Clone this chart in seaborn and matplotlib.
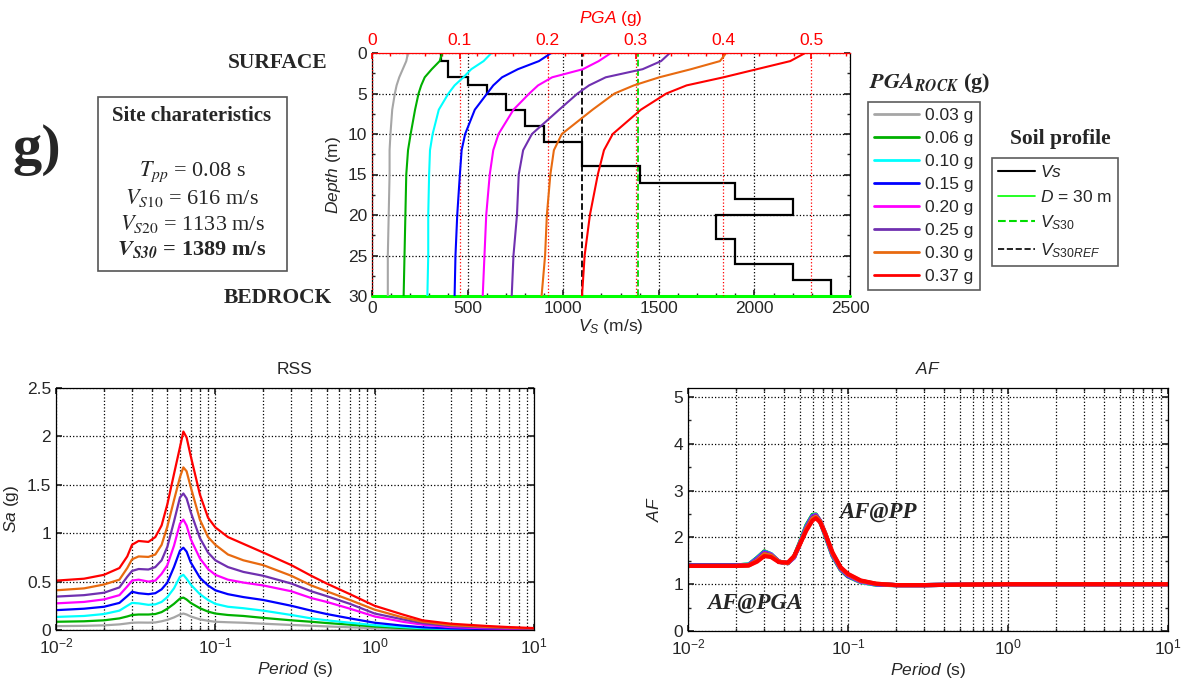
import numpy as np
import pandas as pd
import matplotlib
matplotlib.use('Agg')
import matplotlib.pyplot as plt
import seaborn as sns
from matplotlib.lines import Line2D
from matplotlib.patches import Rectangle
from matplotlib.ticker import MultipleLocator, LogLocator, NullFormatter, FormatStrFormatter

# ---------------- data ----------------
pga_labels = ['0.03 g', '0.06 g', '0.10 g', '0.15 g', '0.20 g', '0.25 g', '0.30 g', '0.37 g']
pga_colors = ['#a6a6a6', '#00b000', '#00ffff', '#0000ff', '#ff00ff', '#7030b0', '#e86a10', '#ff0000']

# soil profile (Vs vs depth)
layer_edges = [0, 1, 3, 4, 5, 7, 9, 11, 14, 16, 18, 20, 23, 26, 28, 30]
layer_vs = [360, 400, 500, 600, 700, 800, 900, 1100, 1400, 1900, 2200, 1800, 1900, 2200, 2400]
VS30 = 1389
VS30_REF = 1100
D_BEDROCK = 30

# PGA profiles with depth
profile_depth = [0, 1, 2, 3, 4, 5, 7, 10, 12, 15, 20, 25, 30]
pga_prof_003 = [0.041, 0.039, 0.035, 0.031, 0.028, 0.026, 0.023, 0.021, 0.020, 0.020, 0.019, 0.018, 0.018]
pga_prof_006 = [0.080, 0.077, 0.068, 0.060, 0.056, 0.053, 0.049, 0.044, 0.041, 0.039, 0.038, 0.037, 0.036]
pga_prof_010 = [0.136, 0.127, 0.113, 0.104, 0.094, 0.087, 0.076, 0.069, 0.066, 0.065, 0.064, 0.064, 0.063]
pga_prof_015 = [0.204, 0.190, 0.166, 0.148, 0.138, 0.131, 0.117, 0.106, 0.102, 0.100, 0.097, 0.095, 0.094]
pga_prof_020 = [0.272, 0.258, 0.240, 0.205, 0.189, 0.179, 0.161, 0.144, 0.138, 0.134, 0.130, 0.128, 0.126]
pga_prof_025 = [0.339, 0.329, 0.308, 0.266, 0.247, 0.234, 0.213, 0.182, 0.172, 0.167, 0.165, 0.161, 0.159]
pga_prof_030 = [0.403, 0.396, 0.363, 0.327, 0.298, 0.276, 0.251, 0.216, 0.207, 0.203, 0.199, 0.197, 0.193]
pga_prof_037 = [0.493, 0.476, 0.438, 0.400, 0.358, 0.335, 0.306, 0.274, 0.264, 0.257, 0.248, 0.242, 0.239]

# response spectra at surface (RSS)
period = [0.01, 0.015, 0.02, 0.025, 0.028, 0.03, 0.033, 0.038, 0.042, 0.046, 0.05, 0.055, 0.06, 0.063,
          0.066, 0.07, 0.08, 0.09, 0.1, 0.12, 0.15, 0.2, 0.3, 0.4, 0.5, 0.7, 1.0, 1.5, 2.0, 3.0, 5.0, 7.0, 10.0]
rss_003 = [0.04, 0.043, 0.048, 0.058, 0.068, 0.075, 0.077, 0.076, 0.078, 0.09, 0.105, 0.13, 0.16, 0.17, 0.16, 0.14, 0.11,
           0.095, 0.085, 0.08, 0.075, 0.065, 0.052, 0.044, 0.037, 0.028, 0.018, 0.01, 0.006, 0.004, 0.002, 0.0015, 0.001]
rss_006 = [0.085, 0.09, 0.10, 0.12, 0.14, 0.155, 0.16, 0.16, 0.165, 0.185, 0.22, 0.27, 0.325, 0.335, 0.315, 0.28, 0.225,
           0.19, 0.17, 0.155, 0.145, 0.125, 0.10, 0.085, 0.072, 0.055, 0.036, 0.02, 0.012, 0.007, 0.004, 0.003, 0.002]
rss_010 = [0.135, 0.145, 0.165, 0.20, 0.25, 0.28, 0.275, 0.26, 0.265, 0.29, 0.34, 0.43, 0.55, 0.57, 0.53, 0.47, 0.37,
           0.31, 0.27, 0.24, 0.225, 0.20, 0.155, 0.12, 0.10, 0.075, 0.05, 0.03, 0.018, 0.01, 0.006, 0.004, 0.003]
rss_015 = [0.205, 0.22, 0.24, 0.28, 0.35, 0.395, 0.38, 0.37, 0.38, 0.42, 0.49, 0.65, 0.82, 0.85, 0.81, 0.70, 0.54,
           0.46, 0.41, 0.37, 0.34, 0.31, 0.25, 0.20, 0.165, 0.12, 0.075, 0.045, 0.028, 0.016, 0.01, 0.007, 0.005]
rss_020 = [0.275, 0.29, 0.316, 0.36, 0.45, 0.51, 0.52, 0.50, 0.51, 0.58, 0.67, 0.87, 1.10, 1.14, 1.08, 0.94, 0.74,
           0.63, 0.57, 0.52, 0.49, 0.46, 0.40, 0.33, 0.29, 0.22, 0.14, 0.085, 0.055, 0.03, 0.018, 0.013, 0.009]
rss_025 = [0.345, 0.36, 0.385, 0.44, 0.55, 0.61, 0.63, 0.625, 0.65, 0.72, 0.86, 1.12, 1.37, 1.41, 1.36, 1.22, 0.95,
           0.80, 0.72, 0.65, 0.60, 0.56, 0.48, 0.40, 0.35, 0.27, 0.17, 0.11, 0.07, 0.04, 0.025, 0.018, 0.012]
rss_030 = [0.41, 0.43, 0.47, 0.52, 0.64, 0.73, 0.76, 0.755, 0.78, 0.88, 1.07, 1.34, 1.58, 1.68, 1.64, 1.48, 1.14,
           0.96, 0.88, 0.78, 0.72, 0.67, 0.56, 0.46, 0.40, 0.31, 0.21, 0.13, 0.085, 0.05, 0.032, 0.024, 0.016]
rss_037 = [0.51, 0.53, 0.57, 0.64, 0.76, 0.88, 0.92, 0.91, 0.96, 1.08, 1.30, 1.61, 1.89, 2.05, 1.99, 1.80, 1.40,
           1.16, 1.06, 0.96, 0.89, 0.80, 0.67, 0.56, 0.48, 0.37, 0.25, 0.16, 0.10, 0.065, 0.042, 0.03, 0.02]

# amplification factor (AF)
af_period = [0.01, 0.02, 0.024, 0.027, 0.03, 0.033, 0.037, 0.042, 0.046, 0.05, 0.055, 0.06, 0.063,
             0.067, 0.072, 0.08, 0.09, 0.1, 0.12, 0.15, 0.2, 0.3, 0.5, 1.0, 10.0]
af_003 = [1.40, 1.40, 1.42, 1.56, 1.70, 1.64, 1.48, 1.45, 1.58, 1.88, 2.25, 2.47, 2.48, 2.33, 2.04, 1.60, 1.30, 1.16, 1.04, 0.99, 0.98, 0.98, 0.99, 1.0, 1.0]
af_006 = [1.40, 1.40, 1.42, 1.56, 1.70, 1.64, 1.48, 1.45, 1.58, 1.89, 2.26, 2.48, 2.49, 2.34, 2.05, 1.61, 1.31, 1.17, 1.05, 0.99, 0.98, 0.98, 0.99, 1.0, 1.0]
af_010 = [1.40, 1.40, 1.42, 1.55, 1.69, 1.64, 1.48, 1.45, 1.57, 1.87, 2.24, 2.46, 2.48, 2.34, 2.06, 1.62, 1.32, 1.18, 1.05, 0.99, 0.98, 0.98, 0.99, 1.0, 1.0]
af_015 = [1.40, 1.40, 1.41, 1.54, 1.68, 1.63, 1.48, 1.45, 1.57, 1.86, 2.22, 2.45, 2.47, 2.34, 2.07, 1.63, 1.33, 1.18, 1.06, 1.00, 0.98, 0.98, 0.99, 1.0, 1.0]
af_020 = [1.39, 1.39, 1.41, 1.53, 1.67, 1.63, 1.48, 1.45, 1.57, 1.86, 2.21, 2.44, 2.47, 2.35, 2.08, 1.64, 1.33, 1.19, 1.06, 1.00, 0.98, 0.98, 0.99, 1.0, 1.0]
af_025 = [1.39, 1.39, 1.41, 1.52, 1.66, 1.62, 1.48, 1.45, 1.58, 1.86, 2.20, 2.43, 2.46, 2.35, 2.09, 1.65, 1.34, 1.20, 1.07, 1.00, 0.98, 0.98, 0.99, 1.0, 1.0]
af_030 = [1.39, 1.39, 1.40, 1.50, 1.64, 1.61, 1.48, 1.45, 1.59, 1.85, 2.18, 2.40, 2.44, 2.34, 2.09, 1.66, 1.35, 1.21, 1.07, 1.01, 0.98, 0.98, 0.99, 1.0, 1.0]
af_037 = [1.39, 1.39, 1.40, 1.48, 1.60, 1.58, 1.47, 1.46, 1.60, 1.85, 2.15, 2.36, 2.41, 2.32, 2.08, 1.68, 1.36, 1.22, 1.08, 1.01, 0.98, 0.98, 0.99, 1.0, 1.0]

profiles = [pga_prof_003, pga_prof_006, pga_prof_010, pga_prof_015, pga_prof_020, pga_prof_025, pga_prof_030, pga_prof_037]
rss_curves = [rss_003, rss_006, rss_010, rss_015, rss_020, rss_025, rss_030, rss_037]
af_curves = [af_003, af_006, af_010, af_015, af_020, af_025, af_030, af_037]

prof_df = pd.concat([pd.DataFrame({'Depth': profile_depth, 'PGA': v, 'Rock': lab})
                     for v, lab in zip(profiles, pga_labels)], ignore_index=True)
rss_df = pd.concat([pd.DataFrame({'Period': period, 'Sa': v, 'Rock': lab})
                    for v, lab in zip(rss_curves, pga_labels)], ignore_index=True)
af_df = pd.concat([pd.DataFrame({'Period': af_period, 'AF': v, 'Rock': lab})
                   for v, lab in zip(af_curves, pga_labels)], ignore_index=True)

# ---------------- style ----------------
sns.set_theme(style='ticks', rc={'axes.edgecolor': 'black', 'axes.linewidth': 0.9,
                                 'xtick.direction': 'in', 'ytick.direction': 'in',
                                 'xtick.major.size': 4, 'ytick.major.size': 4,
                                 'xtick.minor.size': 2.5, 'ytick.minor.size': 2.5})
plt.rcParams['font.family'] = ['Liberation Sans', 'DejaVu Sans']
plt.rcParams['mathtext.fontset'] = 'custom'
plt.rcParams['mathtext.rm'] = 'Liberation Sans'
plt.rcParams['mathtext.it'] = 'Liberation Sans:italic'
plt.rcParams['mathtext.bf'] = 'Liberation Sans:bold'

W, H = 1189, 684
fig = plt.figure(figsize=(W / 100, H / 100), dpi=100)


def box(x0, y0, x1, y1):
    # pixel box (top-left origin) -> figure fraction rect
    return [x0 / W, 1 - y1 / H, (x1 - x0) / W, (y1 - y0) / H]


def fx(px):
    return px / W


def fy(py):
    return 1 - py / H


grid_kw = dict(ls=':', color='black', lw=0.9)
SERIF = 'Liberation Serif'
num_fmt = FormatStrFormatter('%g')

# ---------------- top: profiles ----------------
ax = fig.add_axes(box(372, 53, 850, 296))
ax.stairs(layer_vs, layer_edges, orientation='horizontal', baseline=None, color='black', lw=1.6, zorder=4)
ax.axvline(VS30_REF, color='black', ls='--', lw=1.3, zorder=3)
ax.axvline(VS30, color='#00dd00', ls='--', lw=1.3, zorder=3)
ax.axhline(D_BEDROCK, color='#00ff00', lw=2.2, zorder=5, clip_on=False)
ax.set_xlim(0, 2500)
ax.set_ylim(30, 0)
ax.xaxis.set_major_locator(MultipleLocator(500))
ax.xaxis.set_minor_locator(MultipleLocator(100))
ax.yaxis.set_major_locator(MultipleLocator(5))
ax.yaxis.set_minor_locator(MultipleLocator(2.5))
ax.xaxis.grid(True, **grid_kw)
ax.yaxis.grid(True, **grid_kw)
ax.tick_params(which='both', top=False, right=True, labelsize=12.5)
ax.spines['top'].set_visible(False)
ax.set_xlabel(r'$V_S$ (m/s)', fontsize=12.5, labelpad=1)
ax.set_ylabel(r'$Depth$ (m)', fontsize=12.5, labelpad=3)

ax_pga = ax.twiny()
sns.lineplot(data=prof_df, x='PGA', y='Depth', hue='Rock', hue_order=pga_labels, palette=pga_colors,
             sort=False, estimator=None, legend=False, lw=1.5, ax=ax_pga)
ax_pga.set_xlim(0, 0.544)
ax_pga.set_ylim(30, 0)
ax_pga.xaxis.set_major_locator(MultipleLocator(0.1))
ax_pga.xaxis.set_minor_locator(MultipleLocator(0.02))
ax_pga.xaxis.set_major_formatter(num_fmt)
ax_pga.xaxis.grid(True, ls=':', color='red', lw=0.9)
ax_pga.tick_params(axis='x', which='both', colors='red', labelsize=12.5, direction='in')
ax_pga.spines['top'].set_color('red')
for s in ['left', 'right', 'bottom']:
    ax_pga.spines[s].set_visible(False)
ax_pga.set_xlabel(r'$PGA$ (g)', color='red', fontsize=12.5, labelpad=7)
ax_pga.set_ylabel('')

# ---------------- bottom left: RSS ----------------
ax_rss = fig.add_axes(box(56, 388, 534, 630))
sns.lineplot(data=rss_df, x='Period', y='Sa', hue='Rock', hue_order=pga_labels, palette=pga_colors,
             estimator=None, legend=False, lw=1.6, ax=ax_rss)
ax_rss.set_xscale('log')
ax_rss.set_xlim(0.01, 10)
ax_rss.set_ylim(0, 2.5)
ax_rss.yaxis.set_major_locator(MultipleLocator(0.5))
ax_rss.yaxis.set_major_formatter(num_fmt)
ax_rss.set_title('RSS', fontsize=12.5, pad=10)
ax_rss.set_xlabel(r'$Period$ (s)', fontsize=12.5, labelpad=2)
ax_rss.set_ylabel(r'$Sa$ (g)', fontsize=12.5, labelpad=4)

# ---------------- bottom right: AF ----------------
ax_af = fig.add_axes(box(688, 388, 1168, 631))
sns.lineplot(data=af_df, x='Period', y='AF', hue='Rock', hue_order=pga_labels, palette=pga_colors,
             estimator=None, legend=False, lw=3.0, ax=ax_af)
ax_af.set_xscale('log')
ax_af.set_xlim(0.01, 10)
ax_af.set_ylim(0, 5.19)
ax_af.yaxis.set_major_locator(MultipleLocator(1))
ax_af.yaxis.set_minor_locator(MultipleLocator(0.5))
ax_af.yaxis.set_major_formatter(num_fmt)
ax_af.set_title(r'$AF$', fontsize=12.5, pad=10)
ax_af.set_xlabel(r'$Period$ (s)', fontsize=12.5, labelpad=2)
ax_af.set_ylabel(r'$AF$', fontsize=12.5, labelpad=8)
ax_af.text(0.395, 0.49, 'AF@PP', transform=ax_af.transAxes, ha='center', va='center',
           fontsize=16.5, fontweight='bold', fontstyle='italic', family=SERIF)
ax_af.text(0.14, 0.115, 'AF@PGA', transform=ax_af.transAxes, ha='center', va='center',
           fontsize=16.5, fontweight='bold', fontstyle='italic', family=SERIF)

for a in (ax_rss, ax_af):
    a.xaxis.set_major_locator(LogLocator(base=10, numticks=10))
    a.xaxis.set_minor_locator(LogLocator(base=10, subs=np.arange(2, 10), numticks=20))
    a.xaxis.set_minor_formatter(NullFormatter())
    a.grid(True, which='major', **grid_kw)
    a.xaxis.grid(True, which='minor', **grid_kw)
    a.tick_params(which='both', top=True, right=True, labelsize=12.5)
    a.tick_params(axis='x', pad=5)

# ---------------- legends ----------------
pga_handles = [Line2D([], [], color=c, lw=2) for c in pga_colors]
leg1 = fig.legend(pga_handles, pga_labels, loc='upper left', bbox_to_anchor=(fx(868), fy(102)),
                  bbox_transform=fig.transFigure, frameon=True, fancybox=False, fontsize=12.5,
                  handlelength=2.6, handletextpad=0.35, labelspacing=0.45, borderpad=0.35,
                  borderaxespad=0)
leg1.get_frame().set_edgecolor('#333333')
leg1.get_frame().set_linewidth(1.2)

soil_handles = [Line2D([], [], color='black', lw=1.5),
                Line2D([], [], color='#00ff00', lw=1.2),
                Line2D([], [], color='#00dd00', lw=1.5, ls='--'),
                Line2D([], [], color='black', lw=1.2, ls='--')]
soil_labels = [r'$Vs$', r'$D$ = 30 m', r'$V_{S30}$', r'$V_{S30REF}$']
leg2 = fig.legend(soil_handles, soil_labels, loc='upper left', bbox_to_anchor=(fx(992), fy(158)),
                  bbox_transform=fig.transFigure, frameon=True, fancybox=False, fontsize=12.5,
                  handlelength=2.1, handletextpad=0.3, labelspacing=0.5, borderpad=0.35,
                  borderaxespad=0)
leg2.get_frame().set_edgecolor('#333333')
leg2.get_frame().set_linewidth(1.2)

fig.text(fx(930), fy(83), r'$\mathbfit{PGA}_{\mathbfit{ROCK}}$ (g)', ha='center', va='center',
         fontsize=16, fontweight='bold', family=SERIF, math_fontfamily='stix')
fig.text(fx(1060), fy(139), 'Soil profile', ha='center', va='center',
         fontsize=15.5, fontweight='bold', family=SERIF)

# ---------------- left annotations ----------------
fig.text(fx(37), fy(150), 'g)', ha='center', va='center', fontsize=42, fontweight='bold', family=SERIF)
fig.text(fx(278), fy(63), 'SURFACE', ha='center', va='center', fontsize=15.5, fontweight='bold', family=SERIF)
fig.text(fx(278), fy(298), 'BEDROCK', ha='center', va='center', fontsize=15.5, fontweight='bold', family=SERIF)

fig.add_artist(Rectangle((fx(98), fy(271)), fx(287) - fx(98), fy(97) - fy(271), transform=fig.transFigure,
                         fill=False, edgecolor='#555555', lw=1.2))
fig.text(fx(192), fy(116), 'Site charateristics', ha='center', va='center',
         fontsize=15, fontweight='bold', family=SERIF)
site_lines = [r'$T_{pp}$ = 0.08 s', r'$V_{S10}$ = 616 m/s', r'$V_{S20}$ = 1133 m/s']
for i, txt in enumerate(site_lines):
    fig.text(fx(192), fy(172 + 26 * i), txt, ha='center', va='center', fontsize=16,
             family=SERIF, math_fontfamily='stix')
fig.text(fx(192), fy(250), r'$\mathbfit{V}_{\mathbfit{S30}}$ = 1389 m/s', ha='center', va='center',
         fontsize=16, fontweight='bold', family=SERIF, math_fontfamily='stix')

fig.savefig('out.png', dpi=100, facecolor='white')
